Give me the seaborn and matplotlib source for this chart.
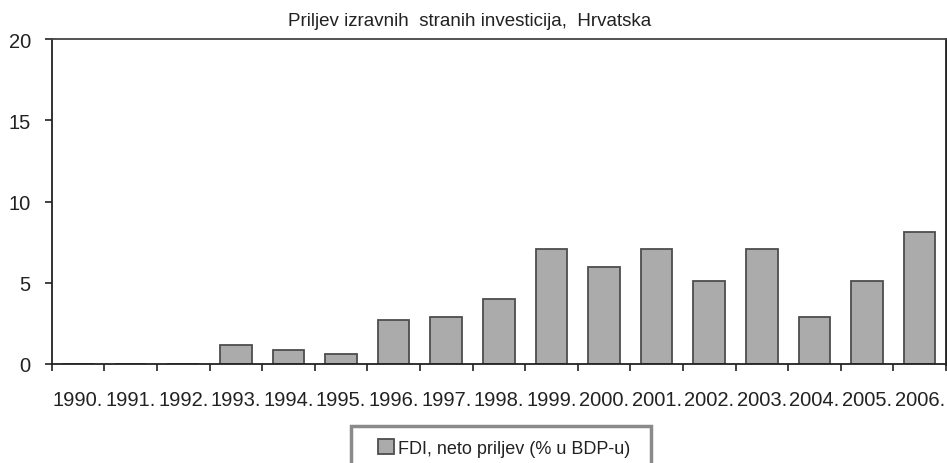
import matplotlib
matplotlib.use('Agg')
import matplotlib.pyplot as plt
from matplotlib.patches import Rectangle
import numpy as np
import pandas as pd
import seaborn as sns

# chart data
years = ['1990.', '1991.', '1992.', '1993.', '1994.', '1995.', '1996.', '1997.', '1998.',
         '1999.', '2000.', '2001.', '2002.', '2003.', '2004.', '2005.', '2006.']
fdi = [0, 0, 0, 1.2, 0.85, 0.6, 2.7, 2.9, 4.0, 7.05, 6.0, 7.05, 5.1, 7.05, 2.9, 5.1, 8.1]
title = 'Priljev izravnih  stranih investicija,  Hrvatska'
series_label = 'FDI, neto priljev (% u BDP-u)'

df = pd.DataFrame({'year': years, 'fdi': fdi})

sns.set_style('white')
plt.rcParams['font.family'] = ['Liberation Sans', 'DejaVu Sans']

W, H = 947, 464
fig = plt.figure(figsize=(W / 100, H / 100), dpi=100)
ax = fig.add_axes([51.7 / W, 1 - 365 / H, (946 - 51.7) / W, (365 - 40) / H])

sns.barplot(data=df, x='year', y='fdi', ax=ax, color='#ababab', width=0.6,
            edgecolor='#4d4d4d', linewidth=1.3, saturation=1, label=series_label)
handles, labels = ax.get_legend_handles_labels()
if ax.get_legend() is not None:
    ax.get_legend().remove()

ax.set_xlim(-0.5, len(years) - 0.5)
ax.set_ylim(0, 20)
ax.set_yticks([0, 5, 10, 15, 20])
ax.set_xlabel('')
ax.set_ylabel('')

# ticks: y outward, x ticks between categories
ax.tick_params(axis='y', which='major', direction='out', length=5, width=1.2,
               color='#222222', pad=10, labelsize=14.5, labelcolor='#222222', left=True)
ax.tick_params(axis='x', which='major', length=0, pad=19, labelsize=14.5, labelcolor='#222222')
ax.set_xticks(np.arange(-0.5, len(years), 1.0), minor=True)
ax.tick_params(axis='x', which='minor', direction='out', length=5, width=1.2,
               color='#222222', bottom=True)

for side in ['left', 'bottom']:
    ax.spines[side].set_color('#222222')
    ax.spines[side].set_linewidth(1.3)
ax.spines['top'].set_color('#444444')
ax.spines['top'].set_linewidth(1.3)
ax.spines['right'].set_color('#222222')
ax.spines['right'].set_linewidth(2)

fig.text(470 / W, 1 - 21 / H, title, ha='center', va='center', fontsize=13.5, color='#222222')

# legend box (partly cut at bottom edge like the original)
fig.patches.append(Rectangle((351 / W, 1 - 480 / H), 300 / W, 53 / H,
                             transform=fig.transFigure, facecolor='white',
                             edgecolor='#8a8a8a', linewidth=2.5, zorder=1))
leg = fig.legend(handles, labels, loc='center left', bbox_to_anchor=(378 / W, 1 - 449 / H),
                 frameon=False, fontsize=13, handlelength=0.9, handleheight=0.9,
                 handletextpad=0.2, borderpad=0, borderaxespad=0)
for t in leg.get_texts():
    t.set_color('#222222')

fig.savefig('out.png', dpi=100)
